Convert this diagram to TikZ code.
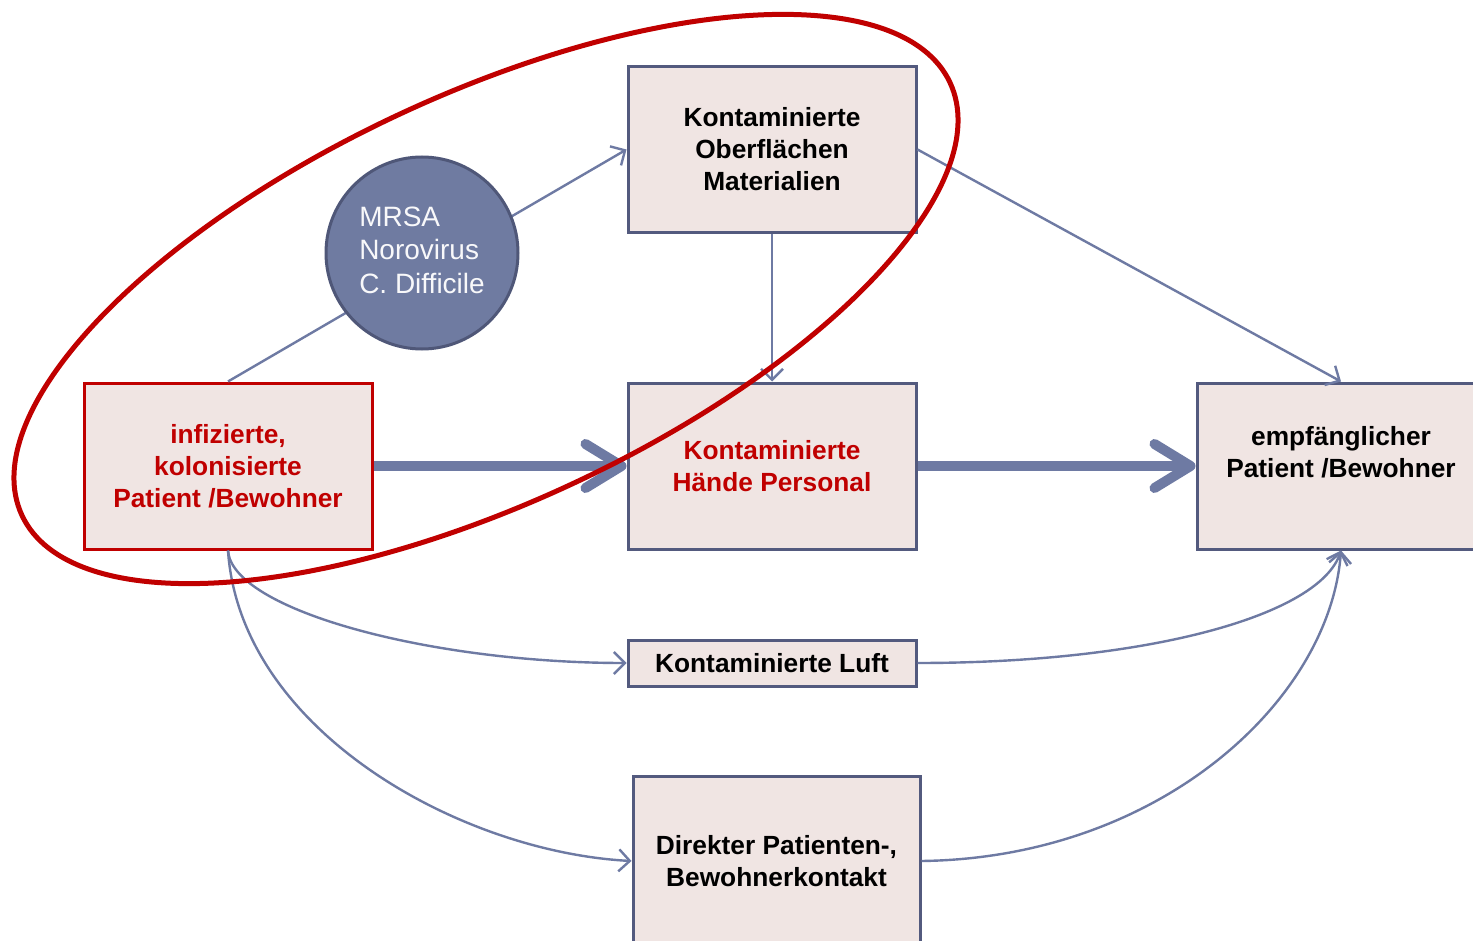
\documentclass[tikz,border=0pt]{standalone}
\usepackage{fontspec}
\setmainfont{Liberation Sans}
\usetikzlibrary{arrows.meta}
\definecolor{boxfill}{HTML}{F0E5E3}
\definecolor{boxline}{HTML}{535A7E}
\definecolor{arrowc}{HTML}{6E7AA3}
\definecolor{circfill}{HTML}{6F7BA1}
\definecolor{circline}{HTML}{4F5778}
\definecolor{redc}{HTML}{C00000}
\begin{document}
\begin{tikzpicture}[x=1pt,y=-1pt,
  box/.style={draw=boxline, fill=boxfill, line width=3pt, minimum width=288pt, minimum height=166pt, inner sep=0pt, align=center, font=\fontsize{26.3}{32}\selectfont\bfseries},
  thin/.style={draw=arrowc, line width=2.4pt, -{Straight Barb[length=11pt,width=22pt]}},
  thick/.style={draw=arrowc, line width=10pt, -{Straight Barb[length=36pt,width=44pt,round]}}
]
\clip (0,0) rectangle (1473,941);
\fill[white] (0,0) rectangle (1473,941);

\node[box] (ober) at (772,149.5) {Kontaminierte\\Oberflächen\\Materialien};
\node[box, draw=redc, text=redc] (inf) at (228,466) {infizierte,\\kolonisierte\\Patient /Bewohner};
\node[box, text=redc] (haende) at (772,466) {Kontaminierte\\Hände Personal};
\node[box] (empf) at (1341,466) {};
\node[font=\fontsize{26.3}{32}\selectfont\bfseries, align=center] (empft) at (1341,452) {empfänglicher\\Patient /Bewohner};
\node[box, minimum height=46pt] (luft) at (772,663) {Kontaminierte Luft};
\node[box, minimum height=170pt, minimum width=287pt] (dir) at (776.5,861) {Direkter Patienten-,\\Bewohnerkontakt};

% thin arrows
\draw[thin] (inf.north) -- (ober.west);
\draw[thin] (ober.south) -- (haende.north);
\draw[thin] (ober.east) -- (empf.north);
\draw[thin] (inf.south) .. controls (232,610) and (430,663) .. (luft.west);
\draw[thin] (luft.east) .. controls (1150,663) and (1320,615) .. (empf.south);
\draw[thin] (inf.south) .. controls (240,730) and (460,852) .. (dir.west);
\draw[thin] (dir.east) .. controls (1160,858) and (1330,700) .. (empf.south);

% circle
\node[circle, draw=circline, fill=circfill, line width=3pt, minimum size=192pt, inner sep=0pt, text=white!95!circfill, align=left, font=\fontsize{28}{33.5}\selectfont] (mrsa) at (422,253) {\raisebox{5pt}{\begin{tabular}{@{}l@{}}MRSA\\Norovirus\\C. Difficile\end{tabular}}};

% thick arrows
\draw[thick] (inf.east) -- (haende.west);
\draw[thick] (haende.east) -- (empf.west);

% red ellipse
\draw[redc, line width=5pt, rotate around={25:(486,299)}] (486,299) ellipse [x radius=512, y radius=204];
\end{tikzpicture}
\end{document}
